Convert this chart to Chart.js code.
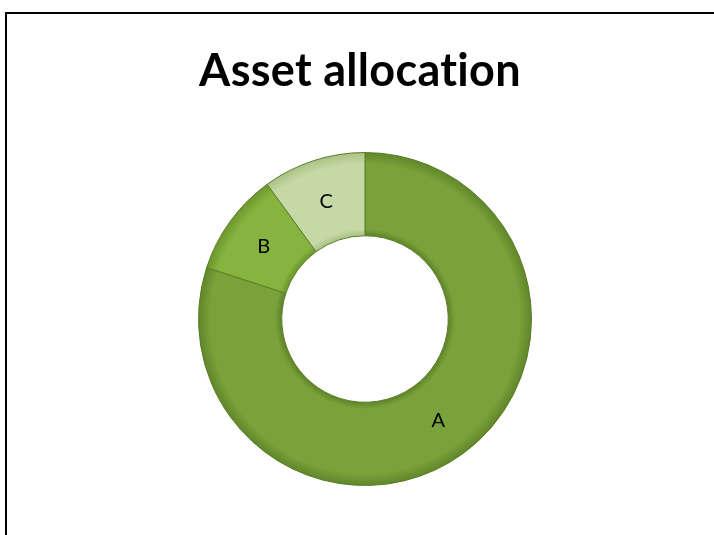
<!DOCTYPE html>
<html>
<head>
<meta charset="utf-8">
<script src="https://cdn.jsdelivr.net/npm/chart.js@4/dist/chart.umd.min.js"></script>
<style>
  html, body { margin: 0; padding: 0; background: #fff; overflow: hidden; }
  #wrap { position: relative; width: 714px; height: 535px; }
  #frame { position: absolute; left: 5px; top: 12px; width: 760px; height: 600px; border: 2px solid #000; box-sizing: border-box; }
  #myChart { position: absolute; left: 0; top: 0; }
</style>
</head>
<body>
<div id="wrap">
  <div id="frame"></div>
  <canvas id="myChart" width="714" height="535"></canvas>
</div>
<script>
var labels = ["A", "B", "C"];
var values = [80, 10, 10];
var baseColors = ["#7aa23a", "#87b33f", "#c6d8a6"];
var edgeColors = ["#5f8529", "#6c962c", "#a9c283"];

function sliceFill(ctx) {
    var chart = ctx.chart;
    var area = chart.chartArea;
    var i = ctx.dataIndex;
    if (!area) return baseColors[i];
    var cx = (area.left + area.right) / 2;
    var cy = (area.top + area.bottom) / 2;
    var r = Math.min(area.right - area.left, area.bottom - area.top) / 2;
    var g = chart.ctx.createRadialGradient(cx, cy, r * 0.5, cx, cy, r);
    g.addColorStop(0, edgeColors[i]);
    g.addColorStop(0.08, baseColors[i]);
    g.addColorStop(0.85, baseColors[i]);
    g.addColorStop(1, edgeColors[i]);
    return g;
}

// small letter spacing keeps Lato from joining "ti";
// title sits a few px left of the doughnut centre
var titleShift = {
    id: "titleShift",
    beforeDraw: function (chart) {
        chart.ctx.letterSpacing = "0.3px";
        chart.ctx.save();
        chart.ctx.translate(-5, 0);
    },
    beforeDatasetsDraw: function (chart) {
        chart.ctx.restore();
    }
};

var sliceLabels = {
    id: "sliceLabels",
    afterDatasetsDraw: function (chart) {
        var c = chart.ctx;
        var meta = chart.getDatasetMeta(0);
        c.save();
        c.font = "20px Lato, sans-serif";
        c.fillStyle = "#000";
        c.textAlign = "center";
        c.textBaseline = "middle";
        meta.data.forEach(function (arc, i) {
            var p = arc.tooltipPosition();
            c.fillText(labels[i], p.x, p.y + 1);
        });
        c.restore();
    }
};

var ctx = document.getElementById("myChart");
var myChart = new Chart(ctx, {
    type: "doughnut",
    data: {
        labels: labels,
        datasets: [
            {
                data: values,
                backgroundColor: sliceFill,
                borderColor: "#5a7d28",
                borderWidth: 1,
            },
        ],
    },
    options: {
        responsive: false,
        animation: false,
        cutout: "50%",
        layout: { padding: { left: 16, right: 0, top: 0, bottom: 49 } },
        plugins: {
            legend: { display: false },
            tooltip: { enabled: false },
            title: {
                display: true,
                text: "Asset allocation",
                color: "#000",
                font: { family: "Lato, sans-serif", size: 45, weight: "bold", lineHeight: 1.2 },
                padding: { top: 44, bottom: 54 },
            },
        },
    },
    plugins: [titleShift, sliceLabels],
});
</script>
</body>
</html>
